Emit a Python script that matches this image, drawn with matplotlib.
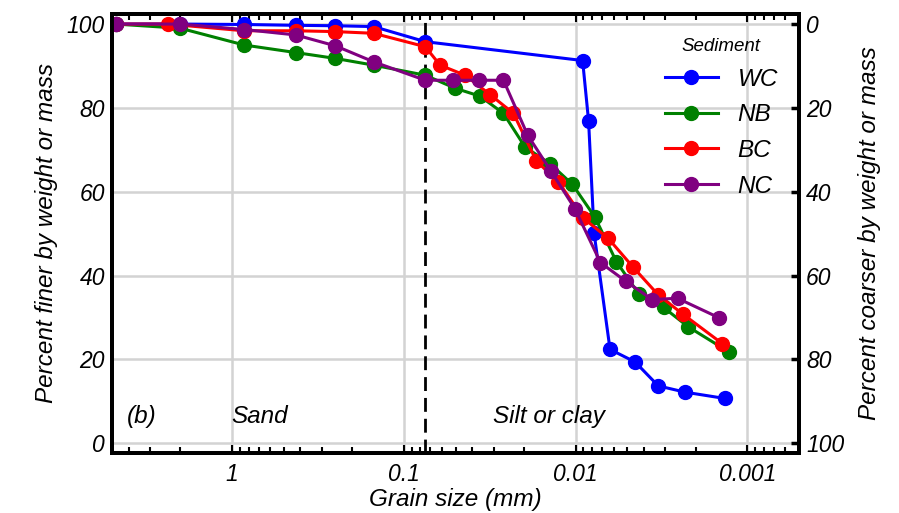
import matplotlib
matplotlib.use("Agg")
import matplotlib.pyplot as plt
from matplotlib.ticker import LogLocator, FixedLocator, FixedFormatter, NullFormatter

plt.rcParams['font.family'] = ['Liberation Sans', 'DejaVu Sans']
plt.rcParams['font.style'] = 'italic'

# ---- data ----
wc_x = [4.75, 2.0, 0.85, 0.425, 0.25, 0.15, 0.075, 0.0091, 0.0084, 0.0078, 0.0063, 0.0045, 0.0033, 0.0023, 0.00135]
wc_y = [100, 100, 99.9, 99.7, 99.6, 99.4, 95.8, 91.3, 76.9, 50.1, 22.4, 19.4, 13.7, 12.2, 10.7]

nb_x = [4.75, 2.0, 0.85, 0.425, 0.25, 0.15, 0.075, 0.0503, 0.036, 0.0263, 0.0197, 0.014, 0.01045,
        0.00773, 0.00578, 0.00428, 0.00307, 0.00221, 0.00128]
nb_y = [100, 99.0, 95.0, 93.2, 91.8, 90.2, 87.8, 84.7, 82.8, 78.7, 70.7, 66.6, 61.8,
        54.0, 43.3, 35.6, 32.4, 27.8, 21.8]

bc_x = [4.75, 2.36, 0.85, 0.425, 0.25, 0.15, 0.075, 0.0615, 0.044, 0.0315, 0.023, 0.0169, 0.0126,
        0.0090, 0.00646, 0.00462, 0.0033, 0.00237, 0.0014]
bc_y = [100, 100, 98.4, 98.4, 98.2, 97.8, 94.6, 90.2, 87.8, 83.2, 78.7, 67.3, 62.4,
        53.7, 48.9, 42.0, 35.4, 30.8, 23.8]

nc_x = [4.75, 2.0, 0.85, 0.425, 0.25, 0.15, 0.075, 0.0519, 0.0365, 0.0263, 0.019, 0.0139, 0.0101,
        0.00716, 0.00512, 0.00358, 0.00255, 0.00147]
nc_y = [100, 100, 98.7, 97.4, 94.8, 91.0, 86.6, 86.6, 86.6, 86.6, 73.5, 64.9, 56.0,
        43.1, 38.7, 34.3, 34.6, 30.0]

series_names = ['WC', 'NB', 'BC', 'NC']
series_colors = ['#0000ff', '#008000', '#ff0000', '#800080']
sand_silt_boundary = 0.075
x_ticks = [1, 0.1, 0.01, 0.001]
x_tick_labels = ['1', '0.1', '0.01', '0.001']
y_ticks = [0, 20, 40, 60, 80, 100]

fig = plt.figure(figsize=(8.99, 5.13), dpi=100)
ax = fig.add_axes([0.1246, 0.117, 0.7642, 0.8557])

for xs, ys, name, c in zip([wc_x, nb_x, bc_x, nc_x], [wc_y, nb_y, bc_y, nc_y], series_names, series_colors):
    ax.plot(xs, ys, '-o', color=c, lw=2.2, ms=10, label=name, zorder=3)

ax.axvline(sand_silt_boundary, color='black', ls=(0, (5, 2.5)), lw=2.0, zorder=2)

ax.set_xscale('log')
ax.set_xlim(5, 0.0005)
ax.set_ylim(-2.3, 102.4)

ax.xaxis.set_major_locator(FixedLocator(x_ticks))
ax.xaxis.set_major_formatter(FixedFormatter(x_tick_labels))
ax.xaxis.set_minor_locator(LogLocator(base=10, subs=range(2, 10), numticks=20))
ax.xaxis.set_minor_formatter(NullFormatter())
ax.tick_params(axis='x', which='both', direction='in', top=True, bottom=True, width=1.5, labelsize=16.5, pad=7)
ax.tick_params(axis='x', which='major', length=6)
ax.tick_params(axis='x', which='minor', length=4.5)

ax.set_yticks(y_ticks)
ax.tick_params(axis='y', which='both', length=0, labelsize=16.5, pad=5)

ax.grid(True, which='major', color='#d3d3d3', lw=1.8, zorder=0)
ax.set_axisbelow(True)

for s in ax.spines.values():
    s.set_linewidth(2.8)

ax.set_xlabel('Grain size (mm)', fontsize=17.5, labelpad=2)
ax.set_ylabel('Percent finer by weight or mass', fontsize=17.5, labelpad=6)

ax2 = ax.twinx()
ax2.set_ylim(100 - (-2.3), 100 - 102.4)
ax2.set_yticks(y_ticks)
ax2.tick_params(axis='y', direction='in', length=6, width=2.5, labelsize=16.5, pad=5)
ax2.set_ylabel('Percent coarser by weight or mass', fontsize=17.5, labelpad=10)
for s in ax2.spines.values():
    s.set_linewidth(2.8)

ax.text(0.022, 0.084, '(b)', transform=ax.transAxes, fontsize=17.5, va='center', ha='left')
ax.text(0.173, 0.084, 'Sand', transform=ax.transAxes, fontsize=17.5, va='center', ha='left')
ax.text(0.555, 0.084, 'Silt or clay', transform=ax.transAxes, fontsize=17.5, va='center', ha='left')

leg = ax.legend(title='Sediment', loc='upper right', bbox_to_anchor=(1.001, 0.995), frameon=False,
                fontsize=17.5, title_fontsize=13.5, handlelength=2.2, handletextpad=0.8,
                labelspacing=0.52)

fig.savefig('out.png', dpi=100)
